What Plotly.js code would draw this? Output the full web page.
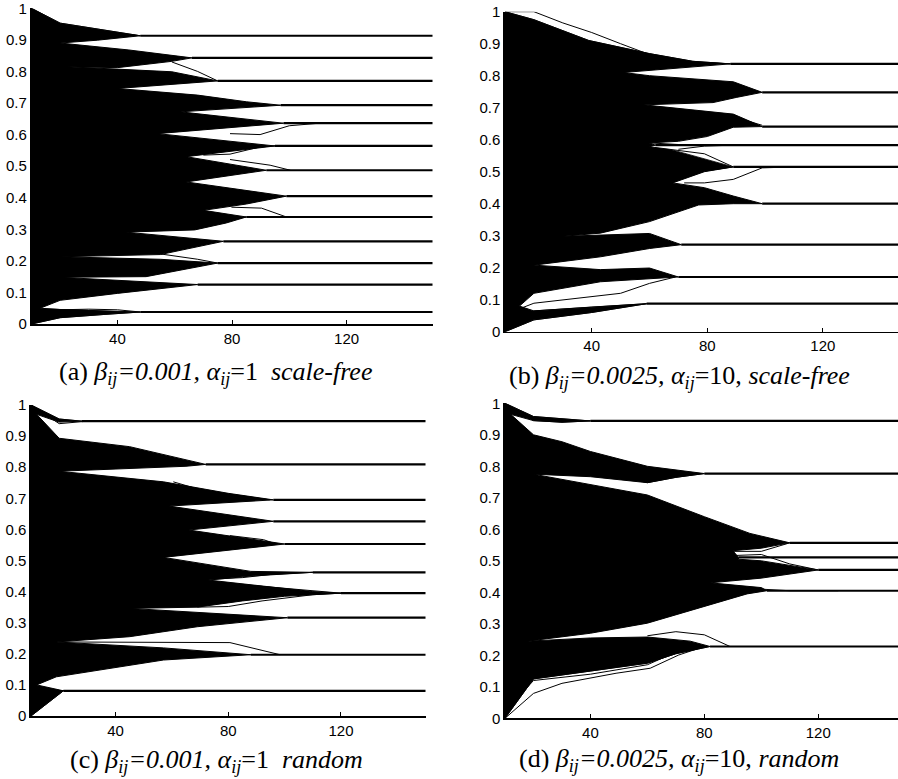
<!DOCTYPE html>
<html>
<head>
<meta charset="utf-8">
<script src="https://cdn.plot.ly/plotly-3.0.1.min.js"></script>
<style>html,body{margin:0;padding:0;background:#fff;}#chart{width:898px;height:779px;}</style>
</head>
<body>
<div id="chart"></div>
<script>
// ---------- shared tick data ----------
const xTickVals = [40, 80, 120];
const xTickText = ['40', '80', '120'];
const yTickVals = [0, 0.1, 0.2, 0.3, 0.4, 0.5, 0.6, 0.7, 0.8, 0.9, 1];
const yTickText = ['0', '0.1', '0.2', '0.3', '0.4', '0.5', '0.6', '0.7', '0.8', '0.9', '1'];

// ---------- panel (a) ----------
const aFinal = [0.913, 0.843, 0.770, 0.693, 0.636, 0.564, 0.487, 0.405, 0.339, 0.262, 0.193, 0.125, 0.038];
const aTip   = [48, 66, 75, 97, 98, 95, 92, 99, 85, 77, 75, 68, 48];
const aTop   = [[10, 1.0], [20, 0.953]];
const aBottom = [[10, 0.0], [20, 0.02], [35, 0.03]];
const aSplit = [[20, 0.89], [22, 0.815], [40, 0.746], [62, 0.672], [54, 0.603], [64, 0.53], [64, 0.45], [70, 0.36], [43, 0.291], [20, 0.213], [20, 0.148], [13, 0.05]];
const aUpper = [[[33, 0.899]], [[40, 0.812], [59, 0.832]], [], [], [], [], [], [[85, 0.38]], [[67, 0.298], [78, 0.32]], [[55, 0.22]], [[50, 0.15]], [[20, 0.075], [40, 0.097]]];
const aLower = [[[33, 0.878], [44, 0.868]], [[40, 0.808], [59, 0.799]], [[68, 0.725], [85, 0.704]], [], [], [], [], [], [], [[55, 0.205]], [], [[20, 0.046]]];
const aStrays = [
  [[10, 0], [20, 0.045], [30, 0.047], [40, 0.045], [48, 0.038]],
  [[79.3, 0.603], [89.8, 0.6], [100, 0.628], [110.5, 0.636]],
  [[70, 0.535], [79.3, 0.538], [89.8, 0.561], [95, 0.564]],
  [[79.3, 0.521], [93.3, 0.503], [100.4, 0.487]],
  [[79.8, 0.37], [90.3, 0.367], [99, 0.339]],
  [[67.6, 0.322], [78, 0.33], [85, 0.339]],
  [[55, 0.222], [68, 0.205], [75, 0.193]],
  [[59, 0.83], [68, 0.8], [75, 0.77]],
  [[20, 0.93], [35, 0.925], [48, 0.913]]
];

// ---------- panel (b) ----------
const bFinal = [0.837, 0.748, 0.641, 0.583, 0.515, 0.400, 0.272, 0.171, 0.0875];
const bTip   = [88, 99, 99, 62, 89, 99, 71, 70, 59];
const bTop   = [[10, 1.0], [20, 0.975], [39, 0.91], [60, 0.869], [75, 0.845]];
const bBottom = [[10, 0.0], [20, 0.037], [40, 0.06]];
const bSplit = [[51, 0.81], [58, 0.709], [60, 0.59], [60, 0.578], [68, 0.465], [30, 0.298], [20, 0.208], [15, 0.08]];
const bUpper = [[[70, 0.823]], [[82, 0.716], [90, 0.732]], [[70, 0.595], [80, 0.61], [89, 0.639]], [], [[79, 0.5]], [[43, 0.308], [60, 0.344], [70, 0.375], [77, 0.396], [89, 0.4]], [[43, 0.234], [60, 0.26]], [[20, 0.12], [43, 0.156], [60, 0.164]]];
const bLower = [[[60, 0.8], [89, 0.781]], [[89, 0.68]], [], [[70, 0.567], [79, 0.556]], [[79, 0.45], [89, 0.424]], [[43, 0.302], [60, 0.307]], [[43, 0.194], [60, 0.199]], [[20, 0.065], [40, 0.077]]];
const bStrays = [
  [[10, 1.0], [20, 1.0], [30, 0.965], [40, 0.935], [50, 0.9], [60, 0.866], [70, 0.845], [80, 0.84], [88, 0.837]],
  [[14, 0.068], [20, 0.089], [50, 0.12], [60, 0.151], [69, 0.171]],
  [[10, 0.01], [20, 0.065], [59, 0.0875]],
  [[72, 0.465], [79, 0.465], [89, 0.476], [99, 0.512], [110, 0.515]],
  [[70, 0.57], [79, 0.58], [89, 0.583]],
  [[60, 0.59], [70, 0.585], [80, 0.583]],
  [[80, 0.68], [89, 0.672], [99, 0.645]],
  [[70, 0.476], [79, 0.502], [89, 0.515]]
];

// ---------- panel (c) ----------
const cFinal = [0.948, 0.809, 0.695, 0.626, 0.553, 0.462, 0.395, 0.316, 0.197, 0.081];
const cTip   = [28, 72, 96, 96, 100, 110, 120, 101, 88, 21.5];
const cTop   = [[10, 1.0], [20, 0.955]];
const cBottom = [[10, 0.0]];
const cSplit = [[12, 0.97], [20, 0.787], [59, 0.675], [66, 0.598], [57, 0.51], [73, 0.437], [45, 0.346], [19, 0.238], [12, 0.1]];
const cUpper = [[[20, 0.945]], [[45, 0.797], [65, 0.803]], [], [], [], [[88, 0.45]], [[69, 0.35], [85, 0.37], [100, 0.385]], [[45, 0.255], [69, 0.287], [92, 0.309]], [[19, 0.126], [57, 0.18]]];
const cLower = [[[20, 0.893], [45, 0.866]], [[57, 0.753], [80, 0.716]], [], [], [[88, 0.465]], [[110, 0.4]], [], [[57, 0.219]], []];
const cStrays = [
  [[10, 1.0], [20, 0.94], [30, 0.948]],
  [[10, 0.1], [20, 0.082], [30, 0.081]],
  [[60.5, 0.753], [71, 0.725], [94.7, 0.695]],
  [[74, 0.44], [85, 0.445], [95, 0.455], [110, 0.462]],
  [[75, 0.43], [100, 0.41], [120, 0.395]],
  [[69, 0.35], [80, 0.352], [92, 0.37], [110, 0.39], [120, 0.395]],
  [[20, 0.238], [69, 0.238], [80.6, 0.236], [98.4, 0.197]],
  [[80.6, 0.58], [92.5, 0.567], [97, 0.553]]
];

// ---------- panel (d) ----------
const dFinal = [0.944, 0.777, 0.557, 0.511, 0.471, 0.405, 0.228];
const dTip   = [40, 80, 110, 92, 120, 102, 82];
const dTop   = [[10, 1.0], [20, 0.958]];
const dBottom = [[10, 0.0], [20, 0.125], [40, 0.15], [60, 0.175], [70, 0.205]];
const dSplit = [[12, 0.965], [20, 0.775], [90, 0.532], [92, 0.505], [82, 0.43], [18, 0.245]];
const dUpper = [[[20, 0.945], [30, 0.94]], [[40, 0.767], [60, 0.748], [70, 0.765]], [[100, 0.54]], [], [[100, 0.445]], [[40, 0.27], [60, 0.302], [80, 0.355], [95, 0.395]]];
const dLower = [[[20, 0.9], [30, 0.878], [40, 0.847], [60, 0.8]], [[40, 0.741], [60, 0.709], [80, 0.64], [96, 0.587]], [], [[100, 0.5]], [[100, 0.415]], [[40, 0.255], [60, 0.258], [75, 0.245]]];
const dStrays = [
  [[10, 1.0], [20, 0.945], [30, 0.94], [40, 0.944]],
  [[10, 0.0], [20, 0.079], [30, 0.111], [49, 0.143], [61, 0.159], [71, 0.201], [80, 0.228]],
  [[10, 0.02], [20, 0.12], [40, 0.14], [60, 0.17], [70, 0.21], [80, 0.228]],
  [[40, 0.8], [50, 0.77], [60, 0.748], [70, 0.765], [80, 0.777]],
  [[60, 0.262], [70, 0.275], [80, 0.265], [89, 0.228]],
  [[90, 0.53], [100, 0.53], [110, 0.557]],
  [[85, 0.515], [100, 0.52], [110, 0.49], [120, 0.471]],
  [[100, 0.41], [110, 0.405], [127, 0.405]]
];

// ---------- captions ----------
const captions = [
  '(a) <i>β<sub>ij</sub>=0.001, α<sub>ij</sub></i>=1\u00a0\u00a0<i>scale-free</i>',
  '(b) <i>β<sub>ij</sub>=0.0025, α<sub>ij</sub></i>=10, <i>scale-free</i>',
  '(c) <i>β<sub>ij</sub>=0.001, α<sub>ij</sub></i>=1\u00a0\u00a0<i>random</i>',
  '(d) <i>β<sub>ij</sub>=0.0025, α<sub>ij</sub></i>=10, <i>random</i>'
];

const X_END = 150;
const W = 898, H = 779;

function line(pts, xa, ya, opts) {
  return Object.assign({
    type: 'scatter', mode: 'lines',
    x: pts.map(p => p[0]), y: pts.map(p => p[1]),
    xaxis: xa, yaxis: ya, hoverinfo: 'skip', showlegend: false,
    line: {color: '#000', width: 1}
  }, opts || {});
}

function build(xa, ya, fin, tip, top, bottom, split, upper, lower, strays) {
  const tr = [];
  const N = fin.length;
  const tips = fin.map((f, i) => [tip[i], f]);
  const outer = [...top, ...tips, ...bottom.slice().reverse()];
  tr.push(line(outer, xa, ya, {fill: 'toself', fillcolor: '#000', line: {color: '#000', width: 0.8}}));
  const edges = [];
  for (let k = 0; k < N - 1; k++) {
    const up = [split[k], ...upper[k], tips[k]];
    const lo = [split[k], ...lower[k], tips[k + 1]];
    const poly = [...up, [X_END + 5, fin[k]], [X_END + 5, fin[k + 1]], ...lo.slice().reverse()];
    tr.push(line(poly, xa, ya, {fill: 'toself', fillcolor: '#fff', line: {color: 'rgba(0,0,0,0)', width: 0}}));
    edges.push(up, lo);
  }
  edges.forEach(e => tr.push(line(e, xa, ya, {line: {color: '#000', width: 1}})));
  tr.push(line([...top, tips[0]], xa, ya, {line: {color: '#000', width: 1}}));
  tr.push(line([...bottom, tips[N - 1]], xa, ya, {line: {color: '#000', width: 1}}));
  tips.forEach(t => tr.push(line([t, [X_END + 5, t[1]]], xa, ya, {line: {color: '#000', width: 2.2}})));
  strays.forEach(s => tr.push(line(s, xa, ya, {line: {color: '#000', width: 1}})));
  return tr;
}

const traces = [
  ...build('x', 'y', aFinal, aTip, aTop, aBottom, aSplit, aUpper, aLower, aStrays),
  ...build('x2', 'y2', bFinal, bTip, bTop, bBottom, bSplit, bUpper, bLower, bStrays),
  ...build('x3', 'y3', cFinal, cTip, cTop, cBottom, cSplit, cUpper, cLower, cStrays),
  ...build('x4', 'y4', dFinal, dTip, dTop, dBottom, dSplit, dUpper, dLower, dStrays)
];

const tickFont = {family: 'Liberation Sans, Arial, sans-serif', size: 15, color: '#000'};
function xAx(domain, range, anchor) {
  return {domain: domain, range: range, anchor: anchor, tickmode: 'array', tickvals: xTickVals, ticktext: xTickText,
    ticks: 'inside', ticklen: 4, tickwidth: 1, tickcolor: '#000', showline: true, linecolor: '#000', linewidth: 1.6,
    showgrid: false, zeroline: false, tickfont: tickFont, fixedrange: true, ticklabeloverflow: 'allow'};
}
function yAx(domain, anchor) {
  return {domain: domain, range: [0, 1], anchor: anchor, tickmode: 'array', tickvals: yTickVals, ticktext: yTickText,
    ticks: 'inside', ticklen: 4, tickwidth: 1, tickcolor: '#000', showline: true, linecolor: '#000', linewidth: 1.6,
    showgrid: false, zeroline: false, tickfont: tickFont, fixedrange: true, ticklabeloverflow: 'allow'};
}

const capFont = {family: 'Liberation Serif, Times New Roman, serif', size: 26, color: '#000'};
function cap(text, px, py) {
  return {text: text, xref: 'paper', yref: 'paper', x: px / W, y: 1 - py / H, xanchor: 'left', yanchor: 'middle', showarrow: false, font: capFont};
}

const layout = {
  width: W, height: H,
  margin: {l: 0, r: 0, t: 0, b: 0},
  paper_bgcolor: '#fff', plot_bgcolor: '#fff',
  showlegend: false,
  xaxis:  xAx([31.5 / W, 432.5 / W], [10, 150], 'y'),
  yaxis:  yAx([1 - 324 / H, 1 - 8.3 / H], 'x'),
  xaxis2: xAx([505 / W, 1], [10, 146], 'y2'),
  yaxis2: yAx([1 - 331.7 / H, 1 - 11.7 / H], 'x2'),
  xaxis3: xAx([31 / W, 425.5 / W], [10, 150], 'y3'),
  yaxis3: yAx([1 - 716 / H, 1 - 405 / H], 'x3'),
  xaxis4: xAx([505 / W, 1], [10, 148], 'y4'),
  yaxis4: yAx([1 - 718.3 / H, 1 - 403.3 / H], 'x4'),
  annotations: [
    cap(captions[0], 57, 373),
    cap(captions[1], 507, 377),
    cap(captions[2], 68, 761),
    cap(captions[3], 517, 760)
  ]
};

Plotly.newPlot('chart', traces, layout, {staticPlot: true, displayModeBar: false});
</script>
</body>
</html>
